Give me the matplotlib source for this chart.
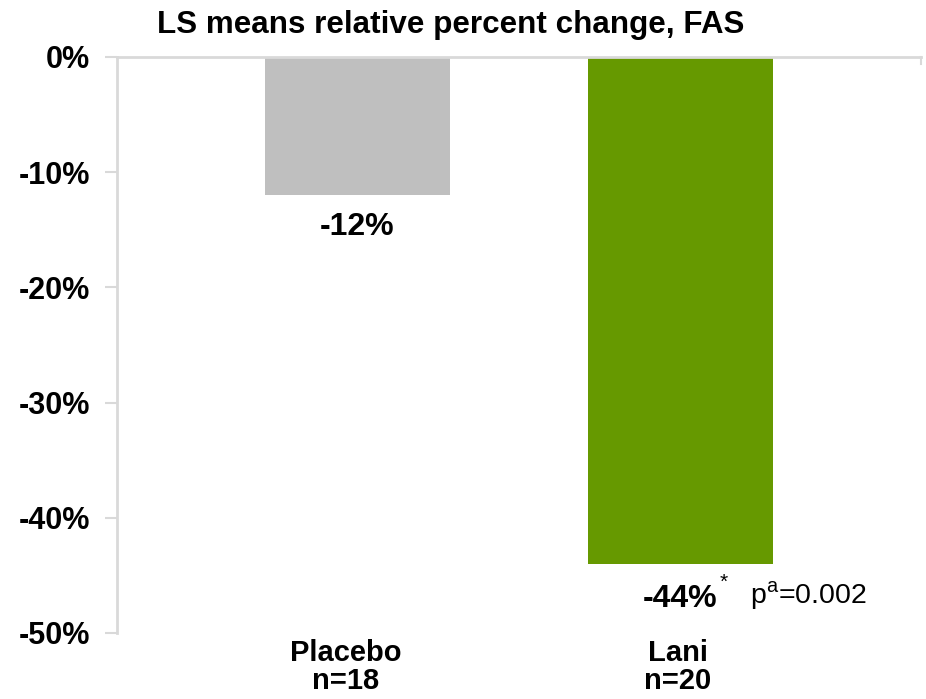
import matplotlib
matplotlib.use("Agg")
import matplotlib.pyplot as plt
from matplotlib.transforms import blended_transform_factory, offset_copy

plt.rcParams['font.family'] = ['Liberation Sans', 'DejaVu Sans']
plt.rcParams['mathtext.fontset'] = 'custom'
plt.rcParams['mathtext.rm'] = 'Liberation Sans'
plt.rcParams['mathtext.bf'] = 'Liberation Sans:bold'

# ---- data ----
categories = ["Placebo", "Lani"]
n_labels = ["n=18", "n=20"]
values = [-12, -44]
value_labels = ["-12%", "-44%"]
yticks = [0, -10, -20, -30, -40, -50]
ytick_labels = ["0%", "-10%", "-20%", "-30%", "-40%", "-50%"]
title = "LS means relative percent change, FAS"
pvalue_text = r"p$^{\mathrm{a}}$=0.002"

colors = ["#bfbfbf", "#669900"]
spine_color = "#d9d9d9"

W, H = 926, 699
fig = plt.figure(figsize=(W / 100, H / 100), dpi=100)
ax = fig.add_axes([117 / W, 1 - 633 / H, (921 - 117) / W, (633 - 57) / H])

x = list(range(len(categories)))
ax.bar(x, values, width=0.573, color=colors, zorder=2)

ax.set_ylim(-50, 0)
ax.set_xlim(-0.7446, 1.7446)
ax.set_yticks(yticks)
ax.set_yticklabels(ytick_labels, fontsize=22, fontweight='bold')
ax.tick_params(axis='y', length=9, width=1.5, color=spine_color, pad=10.5)
ax.set_xticks([])

for s in ['right', 'bottom']:
    ax.spines[s].set_visible(False)
for s in ['left', 'top']:
    ax.spines[s].set_color(spine_color)
    ax.spines[s].set_linewidth(2)

# small tick at right end of the category axis
ax.plot([1, 1], [1, 0.988], transform=ax.transAxes, color=spine_color,
        lw=1.5, clip_on=False, zorder=3)

# value labels
offsets_px = [17, 20]
for i, (v, lab) in enumerate(zip(values, value_labels)):
    t = ax.annotate(lab, xy=(i, v), xytext=(0, -offsets_px[i] * 0.72),
                    textcoords='offset points', ha='center', va='top',
                    fontsize=23, fontweight='bold')
    if i == 1:
        ax.annotate("*", xy=(1.0, 1.0), xycoords=t, xytext=(1, 8),
                    textcoords='offset points', ha='left', va='top',
                    fontsize=15)
        ax.annotate(pvalue_text, xy=(1.0, 0.0), xycoords=t, xytext=(23, 1),
                    textcoords='offset points', ha='left', va='bottom',
                    fontsize=20.5)

# category labels below the axes
trans = blended_transform_factory(ax.transData, ax.transAxes)
cat_shift = [-0.037, -0.008]
for i, (c, n) in enumerate(zip(categories, n_labels)):
    ax.text(i + cat_shift[i], 0, c + "\n" + n,
            transform=offset_copy(trans, fig=fig, x=0, y=-6, units='dots'),
            ha='center', va='top', fontsize=21, fontweight='bold', linespacing=1.02)

fig.text(450.5 / W, 1 - 33 / H, title, ha='center', va='baseline',
         fontsize=22.6, fontweight='bold')

fig.savefig("out.png", dpi=100, facecolor='white')
